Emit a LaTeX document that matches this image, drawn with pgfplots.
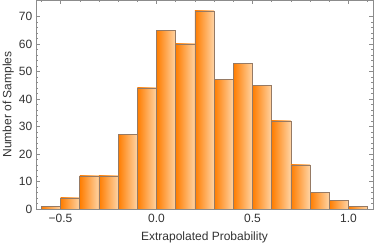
\documentclass[border=0pt]{standalone}
\usepackage{pgfplots}
\usepackage{pgfplotstable}
\pgfplotsset{compat=1.18}
\usepackage{fontspec}
\setmainfont{Liberation Sans}
\definecolor{barL}{RGB}{255,125,0}
\definecolor{barM}{RGB}{255,158,60}
\definecolor{barR}{RGB}{255,212,165}
\definecolor{barE}{RGB}{150,122,100}
\definecolor{frameC}{RGB}{140,140,140}
\pgfplotstableread{
x y
-0.6 1
-0.5 4
-0.4 12
-0.3 12
-0.2 27
-0.1 44
0.0 65
0.1 60
0.2 72
0.3 47
0.4 53
0.5 45
0.6 32
0.7 16
0.8 6
0.9 3
1.0 1
1.1 1
}\hist
\begin{document}
\begin{tikzpicture}
\begin{axis}[
  scale only axis, width=337pt, height=209pt,
  xmin=-0.628, xmax=1.128, ymin=0, ymax=76,
  xtick={-0.5,0,0.5,1}, xticklabels={−0.5,0.0,0.5,1.0},
  minor xtick={-0.6,-0.4,-0.3,-0.2,-0.1,0.1,0.2,0.3,0.4,0.6,0.7,0.8,0.9,1.1},
  ytick={0,10,...,70}, minor y tick num=4,
  tick align=inside, major tick length=4pt, minor tick length=2pt,
  axis line style={frameC}, tick style={frameC, line width=0.5pt},
  ticklabel style={font=\fontsize{12}{14}\selectfont, text=black!80, inner sep=0pt},
  xticklabel style={anchor=base, yshift=-14pt},
  yticklabel style={anchor=east, xshift=-3.5pt},
  /pgf/number format/assume math mode=true,
  xlabel={Extrapolated Probability}, ylabel={Number of Samples},
  label style={font=\fontsize{12}{14}\selectfont, text=black!80, inner sep=0pt},
  xlabel style={at={([yshift=-31.5pt]axis description cs:0.5,0)}, anchor=base},
  ylabel style={at={([xshift=-24.5pt]axis description cs:0,0.5)}, anchor=base},
]
\pgfplotsinvokeforeach{0:1,1:2,2:3,3:4,4:5,5:6,6:7,7:8,8:9,9:10,10:11,11:12,12:13,13:14,14:15,15:16,16:17}{
\addplot[ybar interval, draw=barE, line width=0.55pt, left color=barL, middle color=barM, right color=barR]
  table[x=x, y=y, restrict expr to domain={\coordindex}{#1}] {\hist};
}
\end{axis}
\pgfresetboundingbox
\path[use as bounding box] ([xshift=-36pt,yshift=-35pt]current axis.south west) rectangle ([xshift=1pt]current axis.north east);
\end{tikzpicture}
\end{document}
